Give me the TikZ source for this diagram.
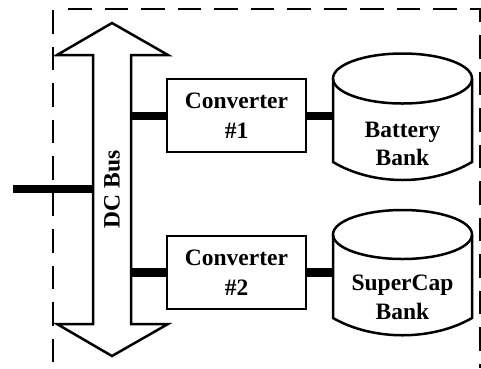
\documentclass[tikz,border=0pt]{standalone}
\usepackage{fontspec}
\setmainfont{Liberation Serif}
\begin{document}
\begin{tikzpicture}[x=1pt,y=-1pt,
  every node/.style={font=\fontsize{23.5}{30}\selectfont\bfseries, align=center},
  conv/.style={draw, line width=2.5pt, minimum width=139pt, minimum height=73pt, inner sep=0pt},
  link/.style={line width=8.5pt},
  outline/.style={line width=2.5pt, line join=miter},
  frame/.style={line width=2.7pt, dash pattern=on 23.5pt off 13pt}]
\useasboundingbox (0,0) rectangle (481,368);
% dashed frame
\draw[frame] (53,10) -- (53,368);
\draw[frame] (68,9) -- (480,9) -- (480,368);
% DC bus double arrow
\draw[outline, fill=white] (112,23) -- (168,55) -- (131,55) -- (131,324) -- (168,324)
  -- (112,356) -- (57,324) -- (93,324) -- (93,55) -- (57,55) -- cycle;
\node[rotate=90] (bus) at (112,189.5) {DC Bus};
\coordinate (busL) at (93,189);
\coordinate (busR1) at (131,116);
\coordinate (busR2) at (131,272.5);
\coordinate (feed) at (13,189);
% converters
\node[conv] (c1) at (236.5,115.5) {Converter\\\#1};
\node[conv] (c2) at (236.5,272.5) {Converter\\\#2};
% cylinders
\draw[outline] (402.5,78.5) ellipse [x radius=69.5, y radius=25];
\draw[outline] (333,78.5) -- (333,162) .. controls (373,186) and (432,186) .. (472,162) -- (472,78.5);
\draw[outline] (402.5,234.5) ellipse [x radius=69.5, y radius=24.5];
\draw[outline] (333,234.5) -- (333,318) .. controls (373,341) and (432,341) .. (472,318) -- (472,234.5);
\node[font=\fontsize{23.5}{28.5}\selectfont\bfseries, minimum width=139pt, inner sep=0pt] (bat) at (402.5,144) {Battery\\Bank};
\node[font=\fontsize{23.5}{28.5}\selectfont\bfseries, minimum width=139pt, inner sep=0pt] (sc) at (402.5,297.5) {SuperCap\\Bank};
% connectors
\draw[link] (feed) -- (busL);
\draw[link] (busR1) -- (c1.west |- busR1);
\draw[link] (busR2) -- (c2.west |- busR2);
\draw[link] (c1.east |- busR1) -- (bat.west |- busR1);
\draw[link] (c2.east |- busR2) -- (sc.west |- busR2);
\end{tikzpicture}
\end{document}
